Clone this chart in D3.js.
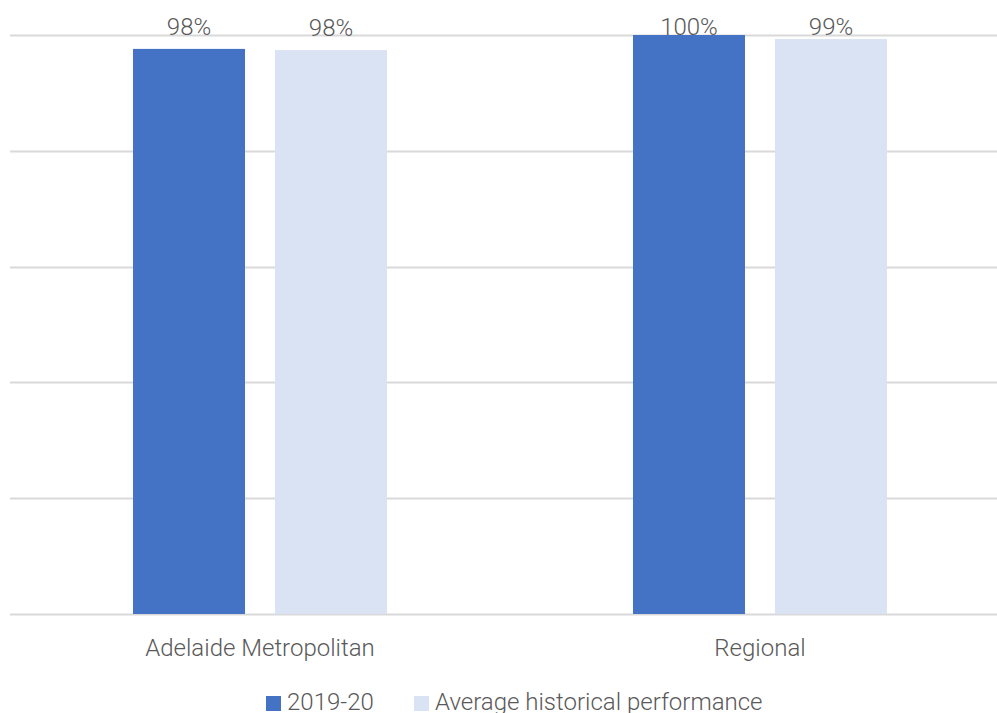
<!DOCTYPE html>
<html>
<head>
<meta charset="utf-8">
<script src="https://cdn.jsdelivr.net/npm/d3@7"></script>
<style>
  body { margin: 0; background: #fff; }
  svg text { font-family: Roboto, "Open Sans", sans-serif; font-weight: 300; fill: #595959; }
</style>
</head>
<body>
<svg width="997" height="713"></svg>
<script>
var categories = ["Adelaide Metropolitan", "Regional"];
var seriesNames = ["2019-20", "Average historical performance"];
var current = [97.6, 100];
var historical = [97.4, 99.3];
var valueLabels = [["98%", "98%"], ["100%", "99%"]];
var yTicks = [0, 20, 40, 60, 80, 100];

var colors = ["#4472C4", "#DAE3F3"];

var svg = d3.select("svg"),
    margin = {top: 35, right: -13, bottom: 99, left: 10},
    width = +svg.attr("width") - margin.left - margin.right,
    height = +svg.attr("height") - margin.top - margin.bottom;

var x = d3.scaleBand().domain(categories).range([0, width]);
var x1 = d3.scaleBand().domain(seriesNames).range([0, 254]).paddingInner(30 / 142);
var y = d3.scaleLinear().domain([0, 100]).range([height, 0]);

var g = svg.append("g")
    .attr("transform", "translate(" + margin.left + "," + margin.top + ")");

// gridlines
g.selectAll(".grid")
  .data(yTicks)
  .enter().append("line")
    .attr("class", "grid")
    .attr("x1", 0)
    .attr("x2", width)
    .attr("y1", function(d) { return Math.round(y(d)) + 0.5; })
    .attr("y2", function(d) { return Math.round(y(d)) + 0.5; })
    .style("stroke", "#d9d9d9")
    .style("stroke-width", "2px");

var data = categories.map(function(c, i) {
  return { cat: c, values: [current[i], historical[i]], labels: valueLabels[i] };
});

var groups = g.selectAll(".group")
  .data(data)
  .enter().append("g")
    .attr("transform", function(d) {
      return "translate(" + (x(d.cat) + (x.bandwidth() - 254) / 2) + ",0)";
    });

groups.selectAll("rect")
  .data(function(d) { return d.values.map(function(v, j) { return {s: seriesNames[j], v: v, j: j}; }); })
  .enter().append("rect")
    .attr("x", function(d) { return x1(d.s); })
    .attr("width", x1.bandwidth())
    .attr("y", function(d) { return y(d.v); })
    .attr("height", function(d) { return height - y(d.v); })
    .style("fill", function(d) { return colors[d.j]; });

// labels sit above the bar, but never above the plot top
groups.selectAll(".val")
  .data(function(d) { return d.values.map(function(v, j) { return {s: seriesNames[j], v: v, t: d.labels[j]}; }); })
  .enter().append("text")
    .attr("class", "val")
    .attr("x", function(d) { return x1(d.s) + x1.bandwidth() / 2; })
    .attr("y", function(d) { return Math.max(y(d.v) - 14, y(100)); })
    .attr("text-anchor", "middle")
    .style("font-size", "24px")
    .text(function(d) { return d.t; });

// category labels
g.selectAll(".cat")
  .data(categories)
  .enter().append("text")
    .attr("class", "cat")
    .attr("x", function(d) { return x(d) + x.bandwidth() / 2; })
    .attr("y", height + 42)
    .attr("text-anchor", "middle")
    .style("font-size", "24px")
    .text(function(d) { return d; });

// legend
var legendX = [266, 414];
var legend = svg.selectAll(".legend")
  .data(seriesNames)
  .enter().append("g")
    .attr("transform", function(d, i) { return "translate(" + legendX[i] + ",696)"; });

legend.append("rect")
    .attr("width", 15)
    .attr("height", 15)
    .style("fill", function(d, i) { return colors[i]; });

legend.append("text")
    .attr("x", 21)
    .attr("y", 14)
    .style("font-size", "24px")
    .text(function(d) { return d; });
</script>
</body>
</html>
